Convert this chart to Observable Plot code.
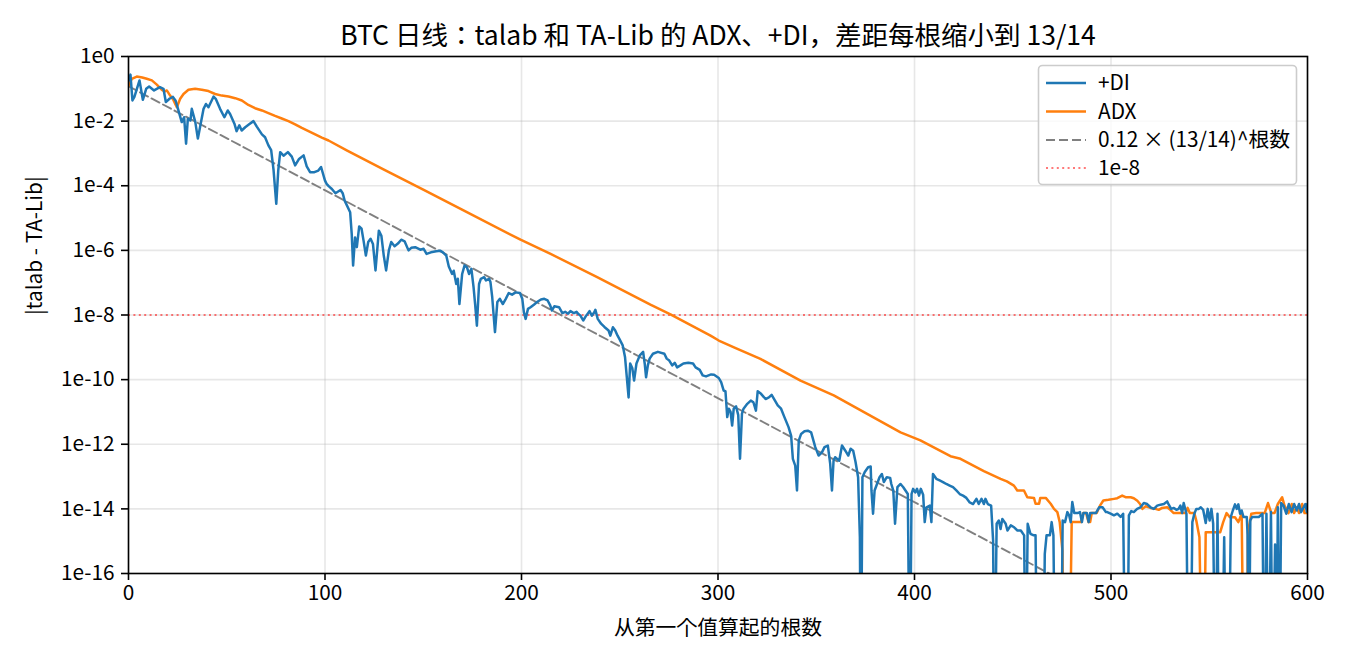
<!DOCTYPE html>
<html>
<head>
<meta charset="utf-8">
<script src="https://cdn.jsdelivr.net/npm/d3@7"></script>
<script src="https://cdn.jsdelivr.net/npm/@observablehq/plot@0.6"></script>
<style>
  html, body { margin: 0; padding: 0; background: #fff; }
  #chart { width: 1350px; height: 660px; }
</style>
</head>
<body>
<div id="chart"></div>
<script>
// ---------- data (exponents; -20 = exact zero, drawn off the bottom) ----------
const diN = [0,1,2,3,5.6,7.3,9,10.5,13,16,17.8,19,21,22.6,24,25.4,27.1,28.3,29.3,30.2,31.5,32.2,34,35.3,36.5,38.2,39.4,40.7,43.3,44.5,46.6,48.8,50.5,51.7,53.9,55,56.4,57.6,59.4,61.4,63.6,65.3,67.9,69.5,71.2,72.6,73.8,75.2,76.2,77.2,78.9,81.1,83.1,84.8,86.8,89.1,90.7,92.4,94.6,96.6,98,100,100.8,102,103.5,105.3,107.9,109,110,112.8,113.6,114.3,115.3,116.2,117.4,118.6,119.6,120.8,122,123.2,124.4,125.7,127.4,128.7,129.9,131.1,132.5,133.7,135.4,137.1,138.8,140.5,142.5,143.9,145.9,148.5,150.2,151.7,153.9,156.6,158.6,160,161.7,163,164.7,165.5,166.8,167.6,168.4,169.8,171,172.2,173.3,174.5,175.6,176.4,177.3,178.4,179.3,181,181.9,183.5,184.2,185.1,186.5,187.7,189,190.5,192,193.5,195.2,197,199.2,200.4,201.2,202.1,203.3,204.6,206.3,207.9,209.9,211.6,213.3,214.6,215.5,216.7,219.1,220.8,222.2,223.7,224.9,226.6,228,228.8,230,231.4,232.6,234.6,235.8,237.1,237.6,238.8,240.5,242.2,244.3,245.2,246.5,247.7,248.9,249.8,251.5,252.7,253.6,254.5,255.3,256.4,257.3,258.5,260.2,261.9,262.7,263.4,264.3,265.2,266.9,269.4,272.7,273.9,275.2,276.7,278,279.2,280.9,282.4,284.9,287.3,288.6,290.7,292.2,293.9,296.5,298,300.4,301.6,302.9,303.8,304.7,305.5,306.4,307.2,308,309.2,310.3,311.2,312.2,313,314.9,316.7,318,319.3,320.2,321.9,324.2,325.9,327.3,329,330.4,332.1,333.8,335.9,337.2,338.1,339.3,340.2,341.1,342.3,344,345.7,347.4,349.5,351.2,352.9,354.2,355.9,357.1,358,358.8,359.6,361.7,363.1,364.8,366.3,367.5,368.8,370,371.3,372.2,372.7,373.5,374.7,376.4,377.7,378.1,378.9,379.7,382.2,383.4,384.4,385.9,387.6,388.2,389.2,390.1,391.3,392.9,394.3,395.4,396.6,397.6,398.5,399.3,400.4,401.3,402.3,403.2,404.4,405.2,406.1,407.8,408.6,409.4,411.1,412.8,414.5,416.2,417.9,419.6,421.3,423,424.7,426.4,428.1,429.8,431.5,432.7,434.1,435.3,436.1,437.3,439,440,440.7,441.8,442.9,443.8,444.7,446.4,447.3,449,450.7,452.4,454.1,455.8,456.6,457.6,459,460.7,461.6,462.5,465.5,466.3,467.2,468.9,469.8,470.7,471.6,474.5,475.4,476.6,477.8,478.7,479.5,480.3,481.3,483,484.2,485.2,486,487.7,488.6,489.4,492.3,494,495.7,497.4,498.1,499.8,501.5,503.2,504.9,506.2,507.4,508.3,509.1,510.3,511.6,513.3,515,516.7,518.4,520.1,521.8,523.5,525.2,526.9,528.6,529.4,530.6,532,533.3,534.4,535.3,536.2,537,538.4,539.4,540.4,541.4,542.4,543.4,544.7,545.7,546.9,548.2,549.2,550.2,551.1,552,553.1,554.2,555.1,556.4,557.6,558.6,559.8,561,562,563.1,564,564.8,565.7,566.5,567.4,569.1,569.5,570.1,570.9,571.8,573.5,575.2,577.1,578,579.1,580.2,581.4,582.3,583.5,584.2,584.9,585.7,586.6,587.8,589.2,590.5,591.9,593.2,594.5,595.7,596.7,598.9,599.7,600];
const diLog = [-0.75,-0.56,-1.36,-1.25,-0.74,-1.34,-1.0,-0.93,-1.05,-0.95,-1.0,-1.41,-1.3,-1.25,-1.37,-1.67,-2.03,-1.88,-2.7,-1.93,-1.98,-1.62,-2.03,-2.54,-2.16,-1.62,-1.47,-1.57,-1.24,-1.32,-1.62,-1.88,-1.67,-1.78,-2.08,-2.31,-2.13,-2.29,-2.19,-2.1,-2.0,-2.17,-2.41,-2.5,-2.75,-2.9,-3.5,-4.56,-3.53,-2.96,-3.07,-2.96,-3.1,-3.37,-3.17,-3.06,-3.4,-3.58,-3.58,-3.53,-3.42,-3.84,-3.94,-4.02,-4.1,-4.23,-4.13,-4.23,-4.46,-4.82,-5.49,-6.47,-5.6,-5.9,-5.26,-5.33,-5.69,-6.16,-5.74,-5.64,-5.8,-6.62,-5.39,-5.55,-6.16,-6.62,-6.0,-5.74,-5.87,-5.79,-5.67,-5.72,-6.0,-5.92,-5.9,-5.98,-5.95,-6.11,-6.06,-6.03,-6.01,-6.06,-6.16,-6.5,-6.73,-6.63,-7.04,-6.88,-7.66,-6.73,-6.47,-6.52,-6.73,-6.57,-7.14,-7.66,-8.33,-7.04,-6.88,-6.83,-6.93,-6.88,-6.98,-7.45,-8.53,-7.6,-7.5,-7.66,-7.5,-7.32,-7.37,-7.3,-7.32,-7.5,-7.91,-8.12,-7.81,-7.76,-7.68,-7.6,-7.52,-7.5,-7.55,-7.7,-7.86,-7.73,-7.76,-7.94,-7.9,-7.96,-7.88,-7.94,-7.9,-7.96,-8.02,-8.17,-8.05,-7.88,-8.02,-7.91,-7.84,-8.12,-8.27,-8.37,-8.48,-8.64,-8.38,-8.48,-8.64,-8.74,-8.94,-9.31,-9.93,-10.55,-9.5,-9.65,-10.03,-9.5,-9.25,-9.14,-9.5,-9.93,-9.56,-9.35,-9.2,-9.14,-9.2,-9.35,-9.41,-9.56,-9.48,-9.62,-9.56,-9.5,-9.48,-9.5,-9.62,-9.7,-9.87,-9.9,-9.84,-9.85,-9.95,-10.08,-10.34,-10.36,-11.16,-10.9,-11.0,-11.42,-10.9,-10.83,-11.1,-12.45,-11.05,-10.9,-10.75,-10.65,-10.7,-10.96,-10.36,-10.44,-10.6,-10.55,-10.47,-10.65,-10.8,-10.9,-11.16,-11.47,-11.73,-12.45,-12.66,-13.43,-11.89,-11.68,-11.6,-11.58,-11.63,-12.09,-12.35,-12.25,-12.09,-12.04,-12.61,-13.43,-12.51,-12.4,-12.51,-12.04,-12.2,-12.35,-12.14,-12.2,-12.55,-13.02,-14.88,-20,-13.02,-12.86,-12.71,-12.69,-13.43,-14.15,-13.43,-13.02,-12.92,-13.17,-13.02,-13.04,-13.23,-13.43,-14.46,-13.33,-13.23,-13.33,-13.43,-13.54,-20,-13.54,-13.38,-13.49,-13.38,-13.59,-13.38,-13.56,-14.41,-13.95,-13.9,-14.41,-12.92,-13.07,-13.12,-13.17,-13.23,-13.28,-13.33,-13.43,-13.54,-13.59,-13.66,-13.8,-13.85,-13.69,-13.85,-13.69,-13.85,-13.69,-13.85,-13.9,-14.98,-20,-14.46,-14.36,-14.62,-14.31,-14.46,-14.67,-14.51,-14.57,-14.67,-14.67,-14.82,-20,-14.46,-14.77,-14.82,-14.82,-20,-20,-15.39,-14.82,-14.82,-14.41,-14.82,-20,-20,-14.36,-14.41,-14.1,-14.2,-14.41,-13.79,-14.13,-14.13,-14.1,-14.41,-14.13,-14.13,-14.41,-14.13,-14.13,-13.95,-13.95,-14.1,-14.1,-14.15,-14.2,-14.15,-14.25,-14.15,-20,-20,-14.2,-14.07,-14.1,-14.0,-13.95,-13.82,-13.85,-13.95,-14.0,-13.9,-13.87,-13.85,-13.77,-13.87,-14.0,-13.97,-14.03,-14.0,-13.9,-14.13,-13.82,-14.15,-20,-20,-14.41,-14.15,-14.0,-14.0,-13.95,-14.03,-14.44,-14.0,-14.36,-14.0,-14.46,-20,-14.15,-20,-20,-14.88,-20,-20,-14.25,-14.05,-13.86,-14.0,-13.86,-14.15,-14.05,-14.25,-14.25,-14.8,-20,-14.36,-14.25,-14.25,-14.25,-14.15,-20,-14.15,-20,-14.1,-20,-15.1,-20,-13.95,-20,-13.82,-13.9,-14.15,-13.85,-14.1,-13.85,-14.05,-13.85,-14.1,-13.85,-14.1,-13.85];

const adxN = [0,1.7,4.2,7,9.3,11.9,14.4,17,18.5,19.5,21.2,22.9,24.6,26.3,28,30.5,33.9,37.3,40.7,44.1,47.5,50.9,54.3,57.7,61,64.4,67.9,71.2,74.6,78,81.4,84.8,88.2,91.6,95,98.4,101.8,111.3,130,150,170,199.5,214.8,238.5,265.6,275.8,296.2,300.4,308.7,321.6,342,358.9,375.9,392.9,403,418.3,423.4,435.3,443.8,447,450.6,452.3,455.7,457.4,460.8,461.6,463.4,464,466.8,469.3,471,472.7,473.9,475.3,476.1,478.7,480,482.3,484.7,485.9,487.3,488.6,489.4,490.2,492.7,494.4,496.1,498.7,501.5,503.2,505.7,507.4,510,511.6,513.4,514.8,516,517.7,520.1,522.6,524.3,526,528.6,530.2,531.9,535.3,537.9,539,540.1,542.4,543.4,545,546.5,547.2,548.2,552.3,555.6,557.1,558.8,560.5,563.1,564.8,566.5,567.6,568.9,569.7,571.4,573.9,575.7,578.2,579.9,581.6,583.2,584.9,587.1,588.3,590.3,592,593.2,594.5,595.7,597.3,598.5,600];
const adxLog = [-0.9,-0.69,-0.62,-0.65,-0.69,-0.74,-0.87,-1.03,-1.08,-1.05,-1.21,-1.35,-1.57,-1.31,-1.16,-1.03,-1.0,-1.03,-1.07,-1.16,-1.21,-1.24,-1.29,-1.36,-1.5,-1.6,-1.67,-1.75,-1.84,-1.92,-2.0,-2.1,-2.21,-2.31,-2.41,-2.51,-2.6,-2.91,-3.5,-4.12,-4.75,-5.67,-6.11,-6.83,-7.68,-7.98,-8.64,-8.79,-9.02,-9.36,-10.03,-10.49,-11.06,-11.63,-11.88,-12.37,-12.45,-12.83,-13.07,-13.15,-13.28,-13.43,-13.43,-13.64,-13.66,-13.84,-13.84,-13.66,-13.66,-13.84,-14.0,-14.1,-14.41,-15.3,-20,-20,-14.41,-14.41,-14.41,-14.13,-14.13,-14.41,-14.41,-14.13,-14.13,-13.9,-13.74,-13.72,-13.69,-13.67,-13.59,-13.64,-13.64,-13.67,-13.75,-13.85,-14.0,-13.92,-13.97,-14.0,-14.03,-13.97,-13.95,-14.03,-14.13,-14.13,-14.13,-13.97,-14.13,-14.13,-14.36,-14.88,-20,-20,-14.72,-14.72,-14.72,-14.41,-14.13,-14.26,-14.26,-14.41,-14.15,-20,-20,-14.72,-14.15,-14.13,-14.13,-14.13,-13.82,-14.13,-14.13,-13.85,-13.64,-13.9,-14.13,-13.85,-14.13,-13.95,-14.13,-13.85,-14.13,-14.13];

// reference line 0.12 × (13/14)^n, read at its two ends
const refN = [0, 470];
const refVal = [0.12, 9e-17];
const threshold = 1e-8;

const xTicks = [0, 100, 200, 300, 400, 500, 600];
const yTicks = [1, 1e-2, 1e-4, 1e-6, 1e-8, 1e-10, 1e-12, 1e-14, 1e-16];
const yTickLabels = ["1e0", "1e-2", "1e-4", "1e-6", "1e-8", "1e-10", "1e-12", "1e-14", "1e-16"];

const titleText = "BTC 日线：talab 和 TA-Lib 的 ADX、+DI，差距每根缩小到 13/14";
const xLabel = "从第一个值算起的根数";
const yLabel = "|talab - TA-Lib|";
const legendLabels = ["+DI", "ADX", "0.12 × (13/14)^根数", "1e-8"];
const colors = { di: "#1f77b4", adx: "#ff7f0e", ref: "#808080", thr: "#ff0000" };

// ---------- build tables ----------
const di = diN.map((n, i) => ({ n, v: Math.pow(10, diLog[i]) }));
const adx = adxN.map((n, i) => ({ n, v: Math.pow(10, adxLog[i]) }));
const ref = refN.map((n, i) => ({ n, v: refVal[i] }));

const FONT = "'Noto Sans CJK JP', 'Noto Sans CJK SC', sans-serif";
const FS = 20.8;

const plot = Plot.plot({
  width: 1350,
  height: 660,
  marginLeft: 128,
  marginRight: 43,
  marginTop: 56,
  marginBottom: 87,
  style: { fontFamily: FONT, fontSize: FS + "px", background: "#fff", color: "#000", overflow: "visible" },
  x: { domain: [0, 600] },
  y: { type: "log", domain: [1e-16, 1] },
  marks: [
    Plot.gridX(xTicks, { stroke: "#b0b0b0", strokeOpacity: 0.3, strokeWidth: 1.6 }),
    Plot.gridY(yTicks, { stroke: "#b0b0b0", strokeOpacity: 0.3, strokeWidth: 1.6 }),
    Plot.ruleY([threshold], { stroke: colors.thr, strokeOpacity: 0.7, strokeWidth: 1.6, strokeDasharray: "2,3.4" }),
    Plot.line(ref, { x: "n", y: "v", stroke: colors.ref, strokeWidth: 1.9, strokeDasharray: "9,4", clip: true }),
    Plot.line(adx, { x: "n", y: "v", stroke: colors.adx, strokeWidth: 2.5, clip: true }),
    Plot.line(di, { x: "n", y: "v", stroke: colors.di, strokeWidth: 2.5, clip: true }),
    Plot.axisX({ ticks: xTicks, tickSize: 7, tickPadding: 5, strokeWidth: 1.6, label: null, fontSize: FS }),
    Plot.axisY({ ticks: yTicks, tickSize: 7, tickPadding: 7, strokeWidth: 1.6, tickFormat: d => yTickLabels[yTicks.indexOf(d)], label: null, fontSize: FS }),
    Plot.frame({ stroke: "#000", strokeWidth: 1.6 }),
    Plot.text([xLabel], { frameAnchor: "bottom", dy: 55, lineAnchor: "middle", fontSize: FS }),
    Plot.text([yLabel], { frameAnchor: "left", dx: -93, rotate: -90, lineAnchor: "middle", fontSize: FS }),
    Plot.text([titleText], { frameAnchor: "top", dy: -20, fontSize: 26.5, lineAnchor: "middle" })
  ]
});

document.getElementById("chart").appendChild(plot);

// ---------- legend (upper right, inside the frame) ----------
const svg = d3.select(plot);
const lg = svg.append("g").attr("font-family", FONT).attr("font-size", FS).attr("text-anchor", "start");
lg.append("rect").attr("x", 1038.5).attr("y", 65.5).attr("width", 258).attr("height", 119)
  .attr("rx", 4).attr("fill", "#fff").attr("fill-opacity", 0.8).attr("stroke", "#cccccc").attr("stroke-width", 1.6);
const rows = [
  { label: legendLabels[0], stroke: colors.di, w: 2.5, dash: null, op: 1 },
  { label: legendLabels[1], stroke: colors.adx, w: 2.5, dash: null, op: 1 },
  { label: legendLabels[2], stroke: colors.ref, w: 1.9, dash: "9,4", op: 1 },
  { label: legendLabels[3], stroke: colors.thr, w: 1.6, dash: "2,3.4", op: 0.7 }
];
const rowY = [83, 111.5, 140, 168];
rows.forEach((r, i) => {
  lg.append("line").attr("x1", 1046).attr("x2", 1086).attr("y1", rowY[i]).attr("y2", rowY[i])
    .attr("stroke", r.stroke).attr("stroke-width", r.w).attr("stroke-opacity", r.op)
    .attr("stroke-dasharray", r.dash);
  lg.append("text").attr("x", 1098).attr("y", rowY[i]).attr("dy", "0.35em").attr("fill", "#000").attr("text-anchor", "start").text(r.label);
});
</script>
</body>
</html>
